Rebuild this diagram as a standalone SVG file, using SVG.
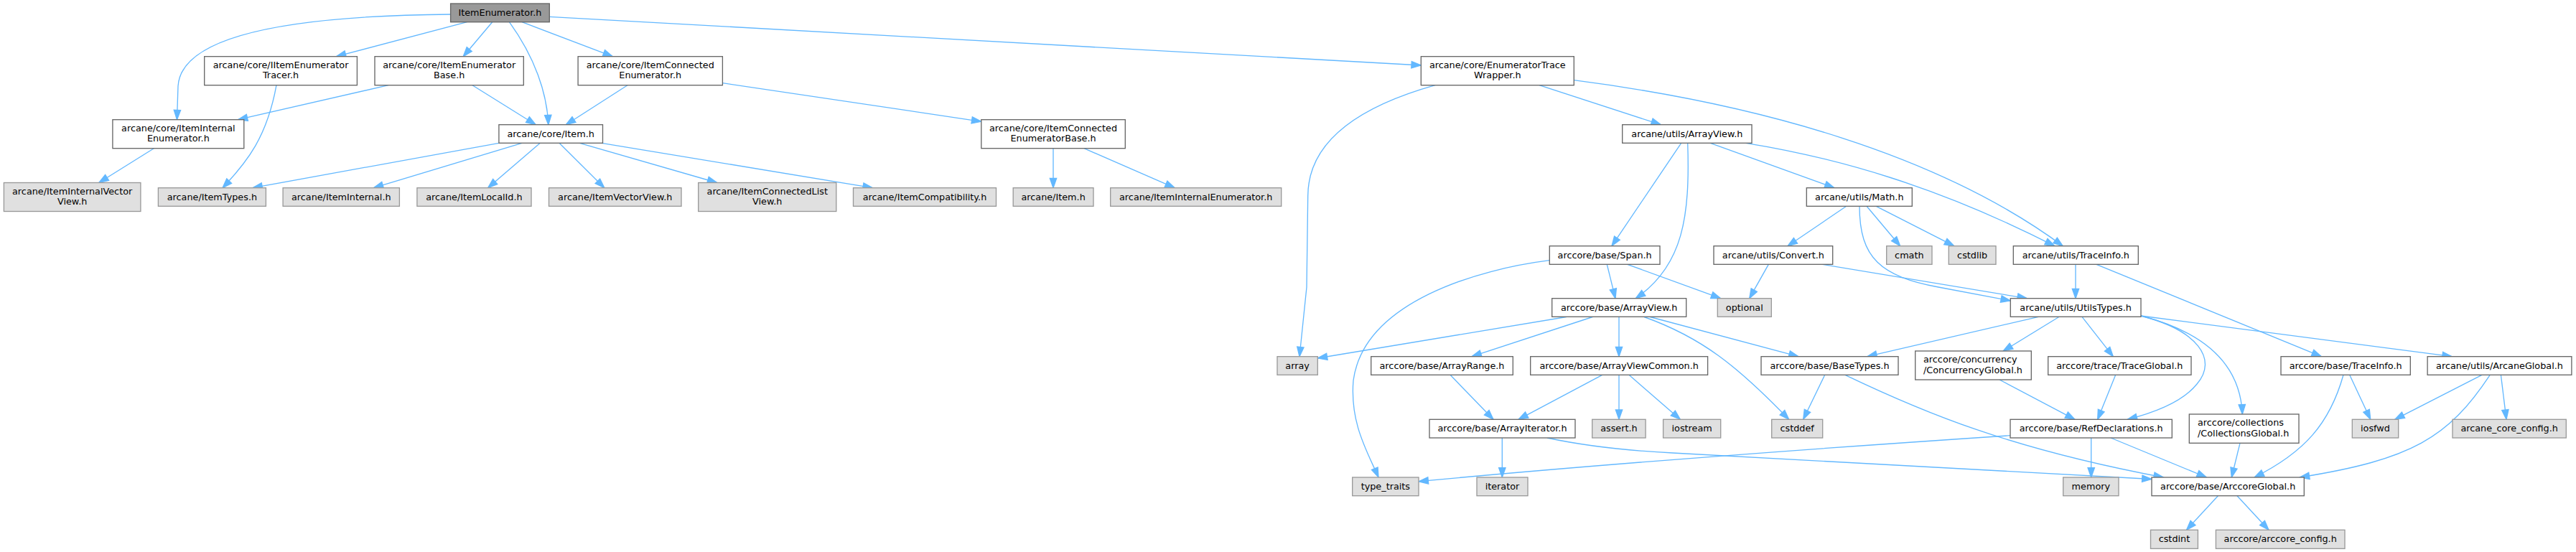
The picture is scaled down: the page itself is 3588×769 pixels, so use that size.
<svg xmlns="http://www.w3.org/2000/svg" width="3588" height="769" viewBox="0 0 3588 769">
<style>
text{font-family:"DejaVu Sans","Liberation Sans",sans-serif;font-size:12.8px;fill:#000;text-anchor:middle}
text.l{text-anchor:start}
.w rect{fill:#fff;stroke:#666;stroke-width:1.33}
.g rect{fill:#E0E0E0;stroke:#999;stroke-width:1.33}
.r rect{fill:#999;stroke:#666;stroke-width:1.33}
#edges path{fill:none;stroke:#63B8FF;stroke-width:1.33;marker-end:url(#a)}
</style>
<defs>
<marker id="a" markerUnits="userSpaceOnUse" markerWidth="16" markerHeight="12" refX="13.3" refY="4.67" orient="auto" overflow="visible">
<path d="M0,0 L13.3,4.67 L0,9.33 Z" fill="#63B8FF" stroke="#63B8FF" stroke-width="1.33"/>
</marker>
</defs>
<rect x="0" y="0" width="3588" height="769" fill="#fff"/>
<g id="edges">
<path d="M627.6,20 C380,22 252,55 248,120 L246.5,166.7"/>
<path d="M650.5,30.7 L468.4,78.7"/>
<path d="M685.7,30.7 L645.2,78.7"/>
<path d="M709.4,30.7 C745,80 762,130 763.8,173.7"/>
<path d="M727,30.7 L853.3,78.7"/>
<path d="M765.3,23.3 L1979.3,91"/>
<path d="M385,118.7 C372,190 345,225 310,261.7"/>
<path d="M541,118.7 L331.4,166.7"/>
<path d="M658,118.7 L746.2,173.7"/>
<path d="M874,118.7 L788.3,173.7"/>
<path d="M1006.4,115.7 L1366.8,169.3"/>
<path d="M214.3,206.7 L137.8,254.5"/>
<path d="M694.9,199.3 L352,261.7"/>
<path d="M727,199.3 L520.4,261.7"/>
<path d="M752.3,199.3 L679.6,261.7"/>
<path d="M779,199.3 L841.8,261.7"/>
<path d="M807.4,199.3 L998.7,254.5"/>
<path d="M838,199.3 L1215.3,261.7"/>
<path d="M1467,206.7 L1467,261.7"/>
<path d="M1510,206.7 L1636.2,261.7"/>
<path d="M1999,118.7 C1895,148 1822,195 1821.7,273 L1820,400 L1810,496.7"/>
<path d="M2144,118.7 L2313.3,173.7"/>
<path d="M2192.3,111.7 C2450,145 2700,215 2873.3,342.7"/>
<path d="M2431.7,199.3 C2560,220 2700,260 2861.7,342.7"/>
<path d="M2341.7,199.3 L2245,342.7"/>
<path d="M2350.7,199.3 C2354,300 2345,370 2278.3,415.7"/>
<path d="M2382.3,199.3 L2555,261.7"/>
<path d="M2158.3,362.7 C2060,375 1900,420 1885,530 C1880,590 1905,630 1920,665"/>
<path d="M2238.3,368.3 L2250,415.7"/>
<path d="M2266.7,368.3 L2396.7,415.7"/>
<path d="M2571.7,287.3 L2490,342.7"/>
<path d="M2590,287.3 C2590,360 2620,385 2700,400 L2800.3,419"/>
<path d="M2600,287.3 L2646.7,342.7"/>
<path d="M2613.3,287.3 L2721.7,342.7"/>
<path d="M2463.3,368.3 L2436.7,415.7"/>
<path d="M2538.3,368.3 L2823.3,415.7"/>
<path d="M2891,368.3 L2891,415.7"/>
<path d="M2920,368.3 L3233.3,496.7"/>
<path d="M2181.7,441.5 L1835.3,499"/>
<path d="M2218.3,441.5 L2050,496.7"/>
<path d="M2255,441.5 L2255,496.7"/>
<path d="M2298.3,441.5 L2505,496.7"/>
<path d="M2290,441.5 C2370,470 2420,510 2491.7,584.3"/>
<path d="M2020,522.3 L2080,584.3"/>
<path d="M2231.7,522.3 L2115,584.3"/>
<path d="M2255,522.3 L2255,584.3"/>
<path d="M2269,522.3 L2340.3,584.3"/>
<path d="M2092.3,610 L2092.3,665"/>
<path d="M2155,610 Q2230,626 2330,631 L2997,667.5"/>
<path d="M2800,606.7 Q2300,640 1976,670.7"/>
<path d="M2912.7,610 L2912.7,665"/>
<path d="M2940,610 L3073.3,665"/>
<path d="M2785,529 L2890,584.3"/>
<path d="M2946.7,522.3 L2921.7,584.3"/>
<path d="M2982,440 C3060,460 3090,500 3060,535 C3040,560 3000,575 2963.3,584.3"/>
<path d="M2982,440 C3060,460 3120,500 3123.3,577"/>
<path d="M2839.4,441.3 L2600.8,496.7"/>
<path d="M2868.2,441.3 L2790.2,489"/>
<path d="M2900,441.3 L2943.3,496.7"/>
<path d="M2982,440 L3415.2,496.7"/>
<path d="M3272.7,522.3 L3301.7,584.3"/>
<path d="M3264,522.3 C3245,590 3210,630 3140,665"/>
<path d="M3456.9,522.3 L3335.7,584.3"/>
<path d="M3468.2,522.3 C3410,610 3360,640 3203.3,665"/>
<path d="M3483.4,522.3 L3491,584.3"/>
<path d="M3120,617.3 L3108.3,665"/>
<path d="M3089.4,690.7 L3045.5,738.3"/>
<path d="M3116,690.7 L3160,738.3"/>
<path d="M2541.7,522.3 L2511.7,584.3"/>
<path d="M2570,522.3 C2680,575 2800,625 3013.3,665"/>
</g>
<g id="n_root" class="r"><rect x="627.6" y="5" width="137.7" height="25.7"/><text x="696.45" y="22">ItemEnumerator.h</text></g>
<g id="n_tracer" class="w"><rect x="284.7" y="78.7" width="212.7" height="40"/><text x="391.05" y="95">arcane/core/IItemEnumerator</text><text x="391.05" y="109.3">Tracer.h</text></g>
<g id="n_enumbase" class="w"><rect x="522" y="78.7" width="207.3" height="40"/><text x="625.65" y="95">arcane/core/ItemEnumerator</text><text x="625.65" y="109.3">Base.h</text></g>
<g id="n_connenum" class="w"><rect x="805.1" y="78.7" width="201.3" height="40"/><text x="905.75" y="95">arcane/core/ItemConnected</text><text x="905.75" y="109.3">Enumerator.h</text></g>
<g id="n_etw" class="w"><rect x="1979.3" y="78.7" width="213" height="40"/><text x="2085.8" y="95">arcane/core/EnumeratorTrace</text><text x="2085.8" y="109.3">Wrapper.h</text></g>
<g id="n_coreiie" class="w"><rect x="156.9" y="166.7" width="182.9" height="40"/><text x="248.35" y="183">arcane/core/ItemInternal</text><text x="248.35" y="197.3">Enumerator.h</text></g>
<g id="n_coreitem" class="w"><rect x="694.9" y="173.7" width="144.6" height="25.6"/><text x="767.2" y="190.7">arcane/core/Item.h</text></g>
<g id="n_cebase" class="w"><rect x="1366.8" y="166.7" width="200.5" height="40"/><text x="1467.05" y="183">arcane/core/ItemConnected</text><text x="1467.05" y="197.3">EnumeratorBase.h</text></g>
<g id="n_uav" class="w"><rect x="2259.7" y="173.7" width="180.3" height="25.6"/><text x="2349.85" y="190.7">arcane/utils/ArrayView.h</text></g>
<g id="n_iivv" class="g"><rect x="5.4" y="254.5" width="190.5" height="40"/><text x="100.65" y="270.8">arcane/ItemInternalVector</text><text x="100.65" y="285.2">View.h</text></g>
<g id="n_itemtypes" class="g"><rect x="220.4" y="261.7" width="150" height="25.6"/><text x="295.4" y="278.7">arcane/ItemTypes.h</text></g>
<g id="n_iteminternal" class="g"><rect x="394.1" y="261.7" width="162.3" height="25.6"/><text x="475.25" y="278.7">arcane/ItemInternal.h</text></g>
<g id="n_itemlocalid" class="g"><rect x="580.9" y="261.7" width="159.1" height="25.6"/><text x="660.45" y="278.7">arcane/ItemLocalId.h</text></g>
<g id="n_itemvv" class="g"><rect x="764.5" y="261.7" width="184.5" height="25.6"/><text x="856.75" y="278.7">arcane/ItemVectorView.h</text></g>
<g id="n_iclv" class="g"><rect x="972.7" y="254.5" width="192.1" height="40"/><text x="1068.75" y="270.8">arcane/ItemConnectedList</text><text x="1068.75" y="285.2">View.h</text></g>
<g id="n_icompat" class="g"><rect x="1188.5" y="261.7" width="199" height="25.6"/><text x="1288" y="278.7">arcane/ItemCompatibility.h</text></g>
<g id="n_item" class="g"><rect x="1411.2" y="261.7" width="111.8" height="25.6"/><text x="1467.1" y="278.7">arcane/Item.h</text></g>
<g id="n_iie" class="g"><rect x="1546.7" y="261.7" width="238" height="25.6"/><text x="1665.7" y="278.7">arcane/ItemInternalEnumerator.h</text></g>
<g id="n_math" class="w"><rect x="2516.3" y="261.7" width="147" height="25.6"/><text x="2589.8" y="278.7">arcane/utils/Math.h</text></g>
<g id="n_span" class="w"><rect x="2158.3" y="342.7" width="153.7" height="25.6"/><text x="2235.15" y="359.7">arccore/base/Span.h</text></g>
<g id="n_convert" class="w"><rect x="2387" y="342.7" width="165.7" height="25.6"/><text x="2469.85" y="359.7">arcane/utils/Convert.h</text></g>
<g id="n_cmath" class="g"><rect x="2627.7" y="342.7" width="63.3" height="25.6"/><text x="2659.35" y="359.7">cmath</text></g>
<g id="n_cstdlib" class="g"><rect x="2714.3" y="342.7" width="65.7" height="25.6"/><text x="2747.15" y="359.7">cstdlib</text></g>
<g id="n_utrace" class="w"><rect x="2804.3" y="342.7" width="174" height="25.6"/><text x="2891.3" y="359.7">arcane/utils/TraceInfo.h</text></g>
<g id="n_aav" class="w"><rect x="2161.7" y="415.7" width="187" height="25.6"/><text x="2255.2" y="432.7">arccore/base/ArrayView.h</text></g>
<g id="n_optional" class="g"><rect x="2392.3" y="415.7" width="75" height="25.6"/><text x="2429.8" y="432.7">optional</text></g>
<g id="n_utypes" class="w"><rect x="2800.3" y="415.7" width="181.7" height="25.6"/><text x="2891.15" y="432.7">arcane/utils/UtilsTypes.h</text></g>
<g id="n_array" class="g"><rect x="1779" y="496.7" width="56.3" height="25.6"/><text x="1807.15" y="513.7">array</text></g>
<g id="n_arange" class="w"><rect x="1909.7" y="496.7" width="197.6" height="25.6"/><text x="2008.5" y="513.7">arccore/base/ArrayRange.h</text></g>
<g id="n_avc" class="w"><rect x="2131.7" y="496.7" width="246.9" height="25.6"/><text x="2255.15" y="513.7">arccore/base/ArrayViewCommon.h</text></g>
<g id="n_basetypes" class="w"><rect x="2453" y="496.7" width="191" height="25.6"/><text x="2548.5" y="513.7">arccore/base/BaseTypes.h</text></g>
<g id="n_conc" class="w"><rect x="2667.7" y="489" width="161.6" height="40"/><text class="l" x="2679" y="505.3">arccore/concurrency</text><text class="l" x="2679" y="519.7">/ConcurrencyGlobal.h</text></g>
<g id="n_traceglobal" class="w"><rect x="2852.7" y="496.7" width="199.3" height="25.6"/><text x="2952.35" y="513.7">arccore/trace/TraceGlobal.h</text></g>
<g id="n_btrace" class="w"><rect x="3177" y="496.7" width="180.3" height="25.6"/><text x="3267.15" y="513.7">arccore/base/TraceInfo.h</text></g>
<g id="n_arcaneglobal" class="w"><rect x="3381.1" y="496.7" width="200.8" height="25.6"/><text x="3481.5" y="513.7">arcane/utils/ArcaneGlobal.h</text></g>
<g id="n_aiter" class="w"><rect x="1991" y="584.3" width="203" height="25.7"/><text x="2092.5" y="601.3">arccore/base/ArrayIterator.h</text></g>
<g id="n_assert" class="g"><rect x="2217.7" y="584.3" width="74.4" height="25.7"/><text x="2254.9" y="601.3">assert.h</text></g>
<g id="n_iostream" class="g"><rect x="2316.6" y="584.3" width="80.1" height="25.7"/><text x="2356.65" y="601.3">iostream</text></g>
<g id="n_cstddef" class="g"><rect x="2467.7" y="584.3" width="71" height="25.7"/><text x="2503.2" y="601.3">cstddef</text></g>
<g id="n_refdecl" class="w"><rect x="2800" y="584.3" width="225.3" height="25.7"/><text x="2912.65" y="601.3">arccore/base/RefDeclarations.h</text></g>
<g id="n_coll" class="w"><rect x="3049.3" y="577" width="152.7" height="40.3"/><text class="l" x="3061" y="593.3">arccore/collections</text><text class="l" x="3061" y="607.7">/CollectionsGlobal.h</text></g>
<g id="n_iosfwd" class="g"><rect x="3276.3" y="584.3" width="64.4" height="25.7"/><text x="3308.5" y="601.3">iosfwd</text></g>
<g id="n_acc" class="g"><rect x="3416" y="584.3" width="158.3" height="25.7"/><text x="3495.15" y="601.3">arcane_core_config.h</text></g>
<g id="n_typetraits" class="g"><rect x="1883.7" y="665" width="92.3" height="25.7"/><text x="1929.85" y="682">type_traits</text></g>
<g id="n_iterator" class="g"><rect x="2057" y="665" width="71" height="25.7"/><text x="2092.5" y="682">iterator</text></g>
<g id="n_memory" class="g"><rect x="2873.7" y="665" width="77.3" height="25.7"/><text x="2912.35" y="682">memory</text></g>
<g id="n_arccoreglobal" class="w"><rect x="2997" y="665" width="212.3" height="25.7"/><text x="3103.15" y="682">arccore/base/ArccoreGlobal.h</text></g>
<g id="n_cstdint" class="g"><rect x="2995.5" y="738.3" width="65.9" height="26"/><text x="3028.45" y="755.3">cstdint</text></g>
<g id="n_aconfig" class="g"><rect x="3086.4" y="738.3" width="179.6" height="26"/><text x="3176.2" y="755.3">arccore/arccore_config.h</text></g>
</svg>
